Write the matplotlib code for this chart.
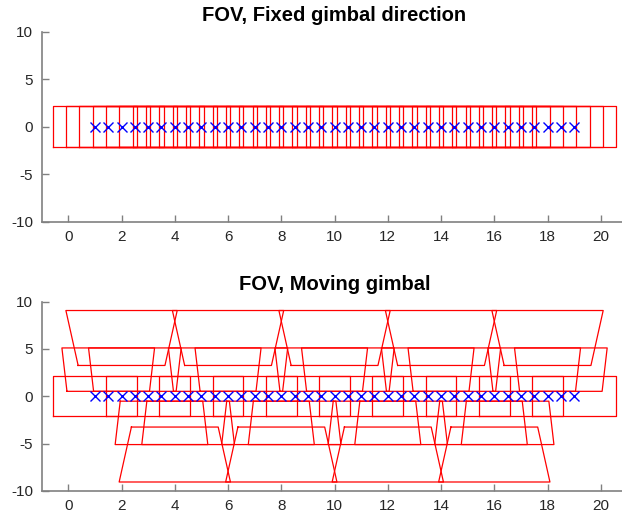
import numpy as np
from matplotlib import pyplot as plt

plt.rcParams['font.family'] = ['Liberation Sans', 'DejaVu Sans']
plt.rcParams['axes.unicode_minus'] = False

# waypoint positions along the track (y = 0)
waypoints_x = [1, 1.5, 2, 2.5, 3, 3.5, 4, 4.5, 5, 5.5, 6, 6.5, 7, 7.5, 8, 8.5,
               9, 9.5, 10, 10.5, 11, 11.5, 12, 12.5, 13, 13.5, 14, 14.5, 15,
               15.5, 16, 16.5, 17, 17.5, 18, 18.5, 19]

# gimbal tilt step at each waypoint for the moving case
moving_steps = [0, 1, 2, 1, 0, -1, -2, -1, 0, 1, 2, 1, 0, -1, -2, -1, 0, 1, 2,
                1, 0, -1, -2, -1, 0, 1, 2, 1, 0, -1, -2, -1, 0, 1, 2, 1, 0]
fixed_steps = [0] * len(waypoints_x)

# ground footprint for each tilt step: near/far edge y and half widths
fp_steps = [-2, -1, 0, 1, 2]
fp_y_near = [-3.25, -0.52, -2.13, 0.52, 3.25]
fp_y_far = [-9.05, -5.1, 2.13, 5.1, 9.05]
fp_half_near = [1.63, 1.55, 1.58, 1.55, 1.63]
fp_half_far = [2.09, 1.74, 1.58, 1.74, 2.09]

AX_GRAY = '#808080'
TXT_GRAY = '#262626'


def draw_fov(ax, steps, title):
    for x, s in zip(waypoints_x, steps):
        i = fp_steps.index(s)
        yn, yf = fp_y_near[i], fp_y_far[i]
        hn, hf = fp_half_near[i], fp_half_far[i]
        px = [x - hn, x + hn, x + hf, x - hf, x - hn]
        py = [yn, yn, yf, yf, yn]
        ax.plot(px, py, '-', color='red', linewidth=0.9)
    ax.plot(waypoints_x, np.zeros(len(waypoints_x)), 'x', color='blue',
            markersize=7, markeredgewidth=1.0)

    ax.set_xlim(-1, 21)
    ax.set_ylim(-10, 10)
    ax.set_xticks(range(0, 21, 2))
    ax.set_yticks([-10, -5, 0, 5, 10])
    ax.set_title(title, fontsize=14.5, fontweight='bold', pad=8)
    for side in ['top', 'right']:
        ax.spines[side].set_visible(False)
    for side in ['left', 'bottom']:
        ax.spines[side].set_color(AX_GRAY)
        ax.spines[side].set_linewidth(1.2)
    ax.tick_params(direction='in', length=5, width=1.0, color=AX_GRAY,
                   labelcolor=TXT_GRAY, labelsize=11, pad=6)


fig = plt.figure(figsize=(6.22, 5.17), dpi=100)
ax1 = fig.add_axes([0.067, 0.5712, 0.9417, 0.3675])
ax2 = fig.add_axes([0.067, 0.0503, 0.9417, 0.3665])

draw_fov(ax1, fixed_steps, 'FOV, Fixed gimbal direction')
draw_fov(ax2, moving_steps, 'FOV, Moving gimbal')

fig.savefig('out.png', dpi=100)
